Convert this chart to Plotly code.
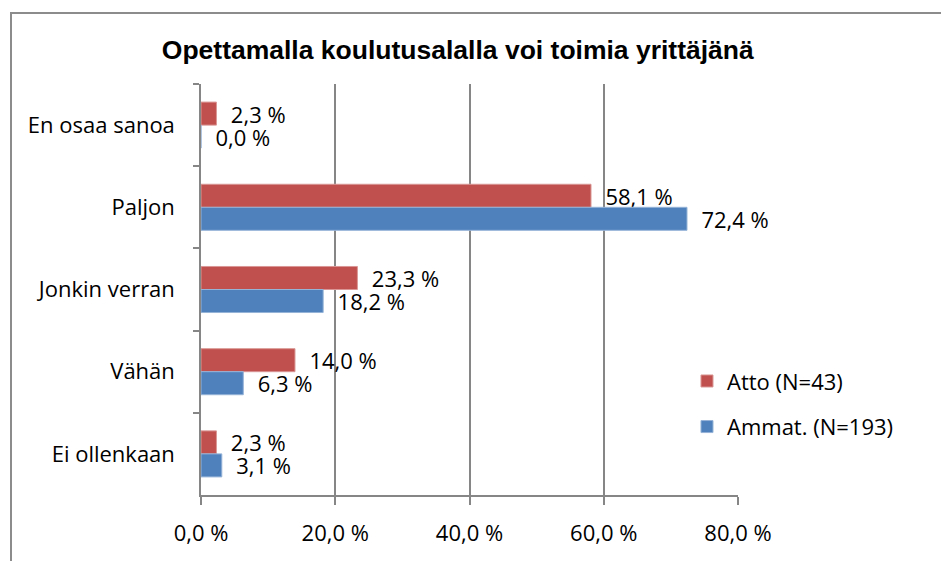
import plotly.graph_objects as go

# data
categories = ["En osaa sanoa", "Paljon", "Jonkin verran", "Vähän", "Ei ollenkaan"]
atto = [2.3, 58.1, 23.3, 14.0, 2.3]
ammat = [0.0, 72.4, 18.2, 6.3, 3.1]
series_names = ["Atto (N=43)", "Ammat. (N=193)"]
x_ticks = [0, 20, 40, 60, 80]

title = "Opettamalla koulutusalalla voi toimia yrittäjänä"
font_main = "'Open Sans', Lato, sans-serif"
grid_col = "#868686"


def fmt(v):
    return f"{v:.1f}".replace(".", ",") + " %"


def labels(vals):
    return ["  " + fmt(v) for v in vals]


fig = go.Figure()
fig.add_trace(go.Bar(
    y=categories, x=atto, name=series_names[0], orientation="h",
    legendgroup="a",
    marker=dict(color="#C0504D", line=dict(color="#D99694", width=1)),
    text=labels(atto), textposition="outside", cliponaxis=False,
    constraintext="none",
    textfont=dict(family=font_main, size=22, color="black"),
))
fig.add_trace(go.Bar(
    y=categories, x=ammat, name=series_names[1], orientation="h",
    legendgroup="b",
    marker=dict(color="#4F81BD", line=dict(color="#95B3D7", width=1)),
    text=labels(ammat), textposition="outside", cliponaxis=False,
    constraintext="none",
    textfont=dict(family=font_main, size=22, color="black"),
))

# page has an 8px body margin, so the figure is a bit smaller than the window
fig.update_layout(
    width=941, height=553,
    margin=dict(l=193, r=211, t=76, b=66),
    paper_bgcolor="white", plot_bgcolor="white",
    separators=", ",
    barmode="group", bargap=0.44, bargroupgap=0,
    title=dict(text="<b>" + title + "</b>", x=0.478, xanchor="center",
               y=0.924, yanchor="middle",
               font=dict(family="'Liberation Sans', Arial, sans-serif", size=26.5, color="black")),
    font=dict(family=font_main, size=22, color="black"),
    legend=dict(x=0.905, xanchor="left", y=0.221, yanchor="middle",
                bgcolor="rgba(0,0,0,0)", tracegroupgap=14,
                font=dict(family=font_main, size=22, color="black"),
                itemwidth=30),
)

fig.update_xaxes(
    range=[0, 80], tickvals=x_ticks, ticktext=[fmt(t) for t in x_ticks],
    showgrid=True, gridcolor=grid_col, gridwidth=1.5,
    showline=True, linecolor=grid_col, linewidth=1.5,
    ticks="outside", ticklen=8, tickcolor=grid_col, tickwidth=1.5,
    ticklabelstandoff=10, zeroline=False,
    tickfont=dict(family=font_main, size=22, color="black"),
)
fig.update_yaxes(
    autorange="reversed", tickson="boundaries",
    showline=True, linecolor=grid_col, linewidth=1.5,
    ticks="outside", ticklen=6, tickcolor=grid_col, tickwidth=1.5,
    ticklabelstandoff=20, showgrid=False,
    tickfont=dict(family=font_main, size=22, color="black"),
)

# outer chart frame (left and top edges visible in reference)
fig.add_shape(type="rect", xref="paper", yref="paper",
              x0=(11 - 201) / 537, x1=1.5, y0=-0.3, y1=(495 - 13) / 411,
              line=dict(color="#8C8C8C", width=2), layer="below")

fig.write_html("out.html")
